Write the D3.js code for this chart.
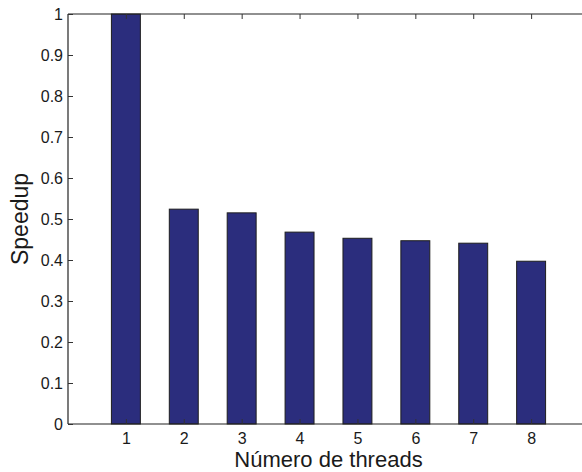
<!DOCTYPE html>
<html>
<head>
<meta charset="utf-8">
<script src="https://cdn.jsdelivr.net/npm/d3@7"></script>
<style>
  body { margin: 0; background: #fff; }
  svg { display: block; }
  text { font-family: "Liberation Sans", Arial, sans-serif; fill: #1a1a1a; }
</style>
</head>
<body>
<div id="chart"></div>
<script>
// number of threads on x axis
const threads = [1, 2, 3, 4, 5, 6, 7, 8];
// speedup per thread count
const speedup = [1.0, 0.524, 0.515, 0.468, 0.453, 0.447, 0.441, 0.397];
const yTicks = [0, 0.1, 0.2, 0.3, 0.4, 0.5, 0.6, 0.7, 0.8, 0.9, 1];

const width = 582;
const height = 472;
const margin = { top: 14, right: -7, bottom: 48, left: 68 };

const svg = d3.select('#chart')
    .append('svg')
    .attr('width', width)
    .attr('height', height);

const x = d3.scaleLinear()
    .domain([0, 9])
    .range([margin.left, width - margin.right]);

const y = d3.scaleLinear()
    .domain([0, 1])
    .range([height - margin.bottom, margin.top]);

const barW = x(0.5) - x(0);

// bars
svg.append('g')
    .selectAll('rect')
    .data(threads)
    .enter().append('rect')
    .attr('x', (d) => x(d) - barW / 2)
    .attr('y', (d, i) => y(speedup[i]))
    .attr('width', barW)
    .attr('height', (d, i) => y(0) - y(speedup[i]))
    .attr('fill', '#2b2d7d')
    .attr('stroke', '#1e1e1e')
    .attr('stroke-width', 1);

// axes: ticks pointing inwards, like matlab
const xAxis = d3.axisBottom(x).tickValues(threads).tickSize(-5).tickPadding(9).tickFormat(d3.format('d'));
const xTop = d3.axisTop(x).tickValues(threads).tickSize(-5).tickFormat('');
const yAxis = d3.axisLeft(y).tickValues(yTicks).tickSize(-5).tickPadding(5).tickFormat((d) => d === 0 || d === 1 ? d3.format('d')(d) : d3.format('.1f')(d));
const yRight = d3.axisRight(y).tickValues(yTicks).tickSize(-5).tickFormat('');

function style(g) {
    g.attr('font-size', null).attr('font-family', null);
    g.select('.domain').attr('stroke', '#222').attr('stroke-width', 1.2);
    g.selectAll('.tick line').attr('stroke', '#333');
    g.selectAll('.tick text').style('font-size', '16px').attr('fill', '#222');
}

svg.append('g').attr('transform', `translate(0,${y(0)})`).call(xAxis).call(style)
    .select('.domain').attr('d', `M${x(0)},0H${x(9)}`);
svg.append('g').attr('transform', `translate(0,${y(1)})`).call(xTop).call(style)
    .select('.domain').attr('d', `M${x(0)},0H${x(9)}`);
svg.append('g').attr('transform', `translate(${x(0)},0)`).call(yAxis).call(style)
    .select('.domain').attr('d', `M0,${y(0)}V${y(1)}`);
svg.append('g').attr('transform', `translate(${x(9)},0)`).call(yRight).call(style)
    .select('.domain').attr('d', `M0,${y(0)}V${y(1)}`);

// axis labels
svg.append('text')
    .attr('x', (x(0) + x(9)) / 2)
    .attr('y', 467)
    .attr('text-anchor', 'middle')
    .style('font-size', '22px')
    .text('Número de threads');

svg.append('text')
    .attr('transform', `translate(28,${(y(0) + y(1)) / 2}) rotate(-90)`)
    .attr('text-anchor', 'middle')
    .style('font-size', '23px')
    .text('Speedup');
</script>
</body>
</html>
